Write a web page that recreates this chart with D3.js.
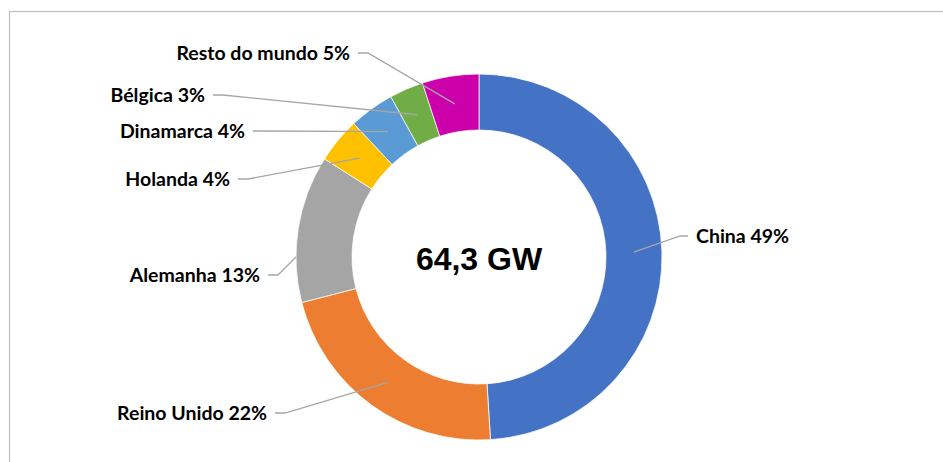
<!DOCTYPE html>
<html>
<head>
<meta charset="utf-8">
<script src="https://cdn.jsdelivr.net/npm/d3@7"></script>
<style>
  body { margin: 0; background: #fff; }
  .lbl { font-family: Lato, "Open Sans", sans-serif; font-weight: bold; font-size: 19.5px; fill: #000; }
  .total { font-family: "Liberation Sans", Arial, sans-serif; font-weight: bold; font-size: 32px; fill: #000; }
</style>
</head>
<body>
<svg width="943" height="462"></svg>
<script>
// data
var countries = ["China", "Reino Unido", "Alemanha", "Holanda", "Dinamarca", "Bélgica", "Resto do mundo"];
var shares = [49, 22, 13, 4, 4, 3, 5];
var colors = ["#4472C4", "#ED7D31", "#A5A5A5", "#FFC000", "#5B9BD5", "#70AD47", "#CC00AA"];
var totalLabel = "64,3 GW";

// label placement (offset of label anchor from donut centre), layout only
var labelOffsets = [[217, -21], [-212, 156], [-219, 18], [-249, -78], [-234, -126], [-274, -162], [-129, -204]];

var svg = d3.select("svg");
var cx = 479, cy = 257, rOut = 183, rIn = 127;

// chart border
svg.append("rect")
    .attr("x", 9.5).attr("y", 11.5)
    .attr("width", 960).attr("height", 480)
    .attr("fill", "none")
    .attr("stroke", "#BFBFBF")
    .attr("stroke-width", 1.2);

var data = countries.map(function(c, i){
    return {name: c, value: shares[i], color: colors[i], off: labelOffsets[i]};
});

var pie = d3.pie().sort(null).value(function(d){ return d.value; });
var arc = d3.arc().innerRadius(rIn).outerRadius(rOut);
var arcs = pie(data);

var g = svg.append("g").attr("transform", "translate(" + cx + "," + cy + ")");

g.selectAll("path.slice")
    .data(arcs)
    .enter()
    .append("path")
    .attr("class", "slice")
    .attr("d", arc)
    .attr("fill", function(d){ return d.data.color; })
    .attr("stroke", "#fff")
    .attr("stroke-width", 0.75);

// leader lines
function attachPoint(d) {
    var a = (d.startAngle + d.endAngle) / 2;
    var r = (rIn + rOut) / 2;
    if (d.data.name === "Alemanha") { a = 1.5 * Math.PI; r = rOut; }
    return [r * Math.sin(a), -r * Math.cos(a)];
}

var line = d3.line();
g.selectAll("path.leader")
    .data(arcs)
    .enter()
    .append("path")
    .attr("class", "leader")
    .attr("fill", "none")
    .attr("stroke", "#A6A6A6")
    .attr("stroke-width", 1.3)
    .attr("d", function(d){
        var o = d.data.off;
        var right = o[0] > 0;
        var p0 = right ? [o[0] - 8, o[1]] : [o[0] + 8, o[1]];
        var p1 = right ? [o[0] - 16, o[1]] : [o[0] + 18, o[1]];
        return line([p0, p1, attachPoint(d)]);
    });

g.selectAll("text.lbl")
    .data(arcs)
    .enter()
    .append("text")
    .attr("class", "lbl")
    .attr("x", function(d){ return d.data.off[0]; })
    .attr("y", function(d){ return d.data.off[1]; })
    .attr("dy", "0.35em")
    .attr("text-anchor", function(d){ return d.data.off[0] > 0 ? "start" : "end"; })
    .text(function(d){ return d.data.name + " " + d.data.value + "%"; });

g.append("text")
    .attr("class", "total")
    .attr("x", 0)
    .attr("y", 13)
    .attr("text-anchor", "middle")
    .text(totalLabel);
</script>
</body>
</html>
